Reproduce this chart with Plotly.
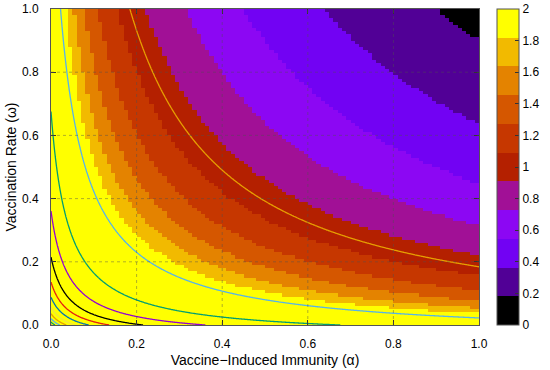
import numpy as np
import plotly.graph_objects as go

# ---------------- data ----------------
x_ticks = [0.0, 0.2, 0.4, 0.6, 0.8, 1.0]
y_ticks = [0.0, 0.2, 0.4, 0.6, 0.8, 1.0]
cb_ticks = [0, 0.2, 0.4, 0.6, 0.8, 1.0, 1.2, 1.4, 1.6, 1.8, 2.0]
contour_levels = [1, 2, 3, 4, 5, 6, 7, 8, 9, 10, 11, 12]
contour_colors = ["#e69f00", "#56b4e9", "#009e73", "#9400d3", "#000000",
                  "#e51e10", "#0072b2", "#f0e442", "#e69f00", "#56b4e9",
                  "#009e73", "#9400d3"]
n_bands = 11          # discrete palette levels on the colour box
z_min, z_max = 0.0, 2.0

# surface parameters estimated from band edges and contour crossings
SHIFT = 0.04
C0, C1, C2, CPOW = 0.17, 0.55, 0.00708, 3.8


def surface(a, w):
    t = -np.log((a + SHIFT) * (w + SHIFT))
    return C0 + C1 * t + C2 * np.clip(t, 0, None) ** CPOW


# gnuplot default palette (rgbformulae 7,5,15), quantised
def pal(g):
    r = np.sqrt(g)
    gg = g ** 3
    b = max(0.0, np.sin(2 * np.pi * g))
    return "rgb(%d,%d,%d)" % (round(r * 255), round(gg * 255), round(b * 255))


band_colors = [pal(i / (n_bands - 1)) for i in range(n_bands)]
colorscale = []
for i, c in enumerate(band_colors):
    colorscale.append([i / n_bands, c])
    colorscale.append([(i + 1) / n_bands, c])

# ---------------- surfaces ----------------
edges = np.linspace(0, 1, 101)
A, W = np.meshgrid(edges, edges)
Zc = surface(A, W)
Zcell = (Zc[:-1, :-1] + Zc[1:, :-1] + Zc[:-1, 1:] + Zc[1:, 1:]) / 4.0

fine = np.linspace(0, 1, 401)
Af, Wf = np.meshgrid(fine, fine)
Zf = surface(Af, Wf)

fig = go.Figure()
fig.add_trace(go.Heatmap(
    x=edges, y=edges, z=Zcell, zmin=z_min, zmax=z_max,
    colorscale=colorscale, zsmooth=False, hoverinfo="skip",
    colorbar=dict(
        x=1.042, xanchor="left", xpad=0, y=0.5, yanchor="middle", ypad=0,
        len=1, lenmode="fraction", thickness=22,
        outlinecolor="#555555", outlinewidth=1,
        tickvals=cb_ticks, ticks="inside", ticklen=4, tickcolor="#333333",
        tickfont=dict(size=12, color="black"),
    ),
))

for lev, col in zip(contour_levels, contour_colors):
    fig.add_trace(go.Contour(
        x=fine, y=fine, z=Zf, autocontour=False,
        contours=dict(start=lev, end=lev, size=1, coloring="none"),
        line=dict(color=col, width=1.3), showscale=False,
        hoverinfo="skip", showlegend=False,
    ))

# dotted grid above the map
shapes = []
grid_line = dict(color="rgba(80,80,80,0.45)", width=1, dash="dot")
for v in x_ticks[1:-1]:
    shapes.append(dict(type="line", xref="x", yref="paper", x0=v, x1=v, y0=0, y1=1,
                       line=grid_line, layer="above"))
for v in y_ticks[1:-1]:
    shapes.append(dict(type="line", xref="paper", yref="y", x0=0, x1=1, y0=v, y1=v,
                       line=grid_line, layer="above"))

axis_common = dict(
    range=[0, 1], showgrid=False, zeroline=False, showline=True,
    linecolor="#555555", linewidth=1, mirror="allticks",
    ticks="inside", ticklen=5, tickcolor="#333333", tickwidth=1,
    tickformat=".1f", layer="above traces", automargin=False,
    tickfont=dict(size=12, color="black"),
)

fig.update_layout(
    width=550, height=370,
    margin=dict(l=51, r=71, t=9, b=45, autoexpand=False),
    paper_bgcolor="white", plot_bgcolor="white",
    font=dict(family="Liberation Sans, Arial, sans-serif", color="black"),
    shapes=shapes,
    xaxis=dict(axis_common, tickvals=x_ticks, ticklabelstandoff=8,
               title=dict(text="Vaccine\u2212Induced Immunity (\u03b1)",
                          font=dict(size=14), standoff=4)),
    yaxis=dict(axis_common, tickvals=y_ticks, ticklabelstandoff=9,
               title=dict(text="Vaccination Rate (\u03c9)",
                          font=dict(size=14), standoff=2)),
)

fig.write_html("out.html",
               config={"displayModeBar": False},
               post_script="document.body.style.margin='0';"
                           "document.body.style.overflow='hidden';")
